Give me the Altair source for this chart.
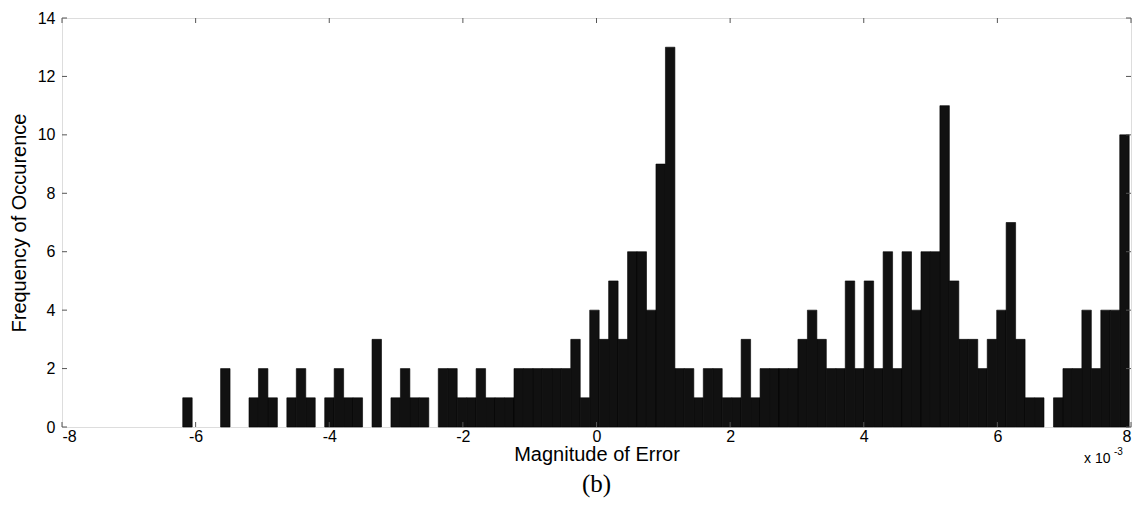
import altair as alt
import pandas as pd

# Histogram (values in units of 1e-3)
BIN_LEFT = -6.193
BIN_WIDTH = 0.14166
COUNTS = [1, 0, 0, 0, 2, 0, 0, 1, 2, 1,
          0, 1, 2, 1, 0, 1, 2, 1, 1, 0,
          3, 0, 1, 2, 1, 1, 0, 2, 2, 1,
          1, 2, 1, 1, 1, 2, 2, 2, 2, 2,
          2, 3, 1, 4, 3, 5, 3, 6, 6, 4,
          9, 13, 2, 2, 1, 2, 2, 1, 1, 3,
          1, 2, 2, 2, 2, 3, 4, 3, 2, 2,
          5, 2, 5, 2, 6, 2, 6, 4, 6, 6,
          11, 5, 3, 3, 2, 3, 4, 7, 3, 1,
          1, 0, 1, 2, 2, 4, 2, 4, 4, 10]
X_TICKS = [-8, -6, -4, -2, 0, 2, 4, 6, 8]
Y_TICKS = [0, 2, 4, 6, 8, 10, 12, 14]

starts = [BIN_LEFT + i * BIN_WIDTH for i in range(len(COUNTS))]
bars_df = pd.DataFrame({
    "start": starts,
    "end": [s + BIN_WIDTH for s in starts],
    "count": COUNTS,
})
bars_df = bars_df[bars_df["count"] > 0]

W, H = 1069, 409
FONT = "Liberation Sans"
AXIS_COLOR = "#555555"

xs = alt.Scale(domain=[-8, 8], nice=False, zero=False)
ys = alt.Scale(domain=[0, 14], nice=False)

bars = alt.Chart(bars_df).mark_rect(
    fill="#111111", stroke="#000000", strokeWidth=0.6
).encode(
    x=alt.X("start:Q", scale=xs, axis=alt.Axis(
        title="Magnitude of Error", values=X_TICKS, labelExpr="'' + datum.value",
        domain=False, ticks=False, grid=False, labelPadding=1,
        labelFont=FONT, labelFontSize=16, labelColor="black",
        titleFont=FONT, titleFontSize=20, titleFontWeight="normal",
        titleColor="black", titlePadding=0)),
    x2="end:Q",
    y=alt.Y("count:Q", scale=ys, axis=alt.Axis(
        title="Frequency of Occurence", values=Y_TICKS, labelExpr="'' + datum.value",
        domain=False, ticks=False, grid=False, labelPadding=7,
        labelFont=FONT, labelFontSize=16, labelColor="black",
        titleFont=FONT, titleFontSize=20, titleFontWeight="normal",
        titleColor="black", titlePadding=8)),
    y2=alt.datum(0),
)

tick_len_y = 14 * 5 / H
tick_len_x = 16 * 5 / W

xt = pd.DataFrame({"v": X_TICKS})
yt = pd.DataFrame({"v": Y_TICKS})

bottom_ticks = alt.Chart(xt).mark_rule(color=AXIS_COLOR, strokeWidth=1).encode(
    x=alt.X("v:Q", scale=xs), y=alt.datum(0), y2=alt.datum(tick_len_y))
top_ticks = alt.Chart(xt).mark_rule(color=AXIS_COLOR, strokeWidth=1).encode(
    x=alt.X("v:Q", scale=xs), y=alt.datum(14), y2=alt.datum(14 - tick_len_y))
left_ticks = alt.Chart(yt).mark_rule(color=AXIS_COLOR, strokeWidth=1).encode(
    y=alt.Y("v:Q", scale=ys), x=alt.datum(-8), x2=alt.datum(-8 + tick_len_x))
right_ticks = alt.Chart(yt).mark_rule(color=AXIS_COLOR, strokeWidth=1).encode(
    y=alt.Y("v:Q", scale=ys), x=alt.datum(8), x2=alt.datum(8 - tick_len_x))

note_df = pd.DataFrame({"t": ["x 10"], "s": ["-3"]})
exp_base = alt.Chart(note_df).mark_text(
    font=FONT, fontSize=14, align="left", baseline="middle", color="black"
).encode(x=alt.value(W - 47), y=alt.value(H + 32), text="t:N")
exp_sup = alt.Chart(note_df).mark_text(
    font=FONT, fontSize=10, align="left", baseline="middle", color="black"
).encode(x=alt.value(W - 17), y=alt.value(H + 25), text="s:N")

chart = alt.layer(
    bars, bottom_ticks, top_ticks, left_ticks, right_ticks, exp_base, exp_sup
).properties(
    width=W, height=H,
    title=alt.TitleParams("(b)", orient="bottom", anchor="middle",
                          font="Liberation Serif", fontSize=25,
                          fontWeight="normal", color="black", offset=6),
    autosize=alt.AutoSizeParams(type="none"),
    padding={"left": 62, "top": 18, "right": 12, "bottom": 86},
).configure_view(
    stroke=AXIS_COLOR, strokeWidth=1
).configure(background="white")

chart.save("out.html", embed_options={"renderer": "svg", "actions": False})
